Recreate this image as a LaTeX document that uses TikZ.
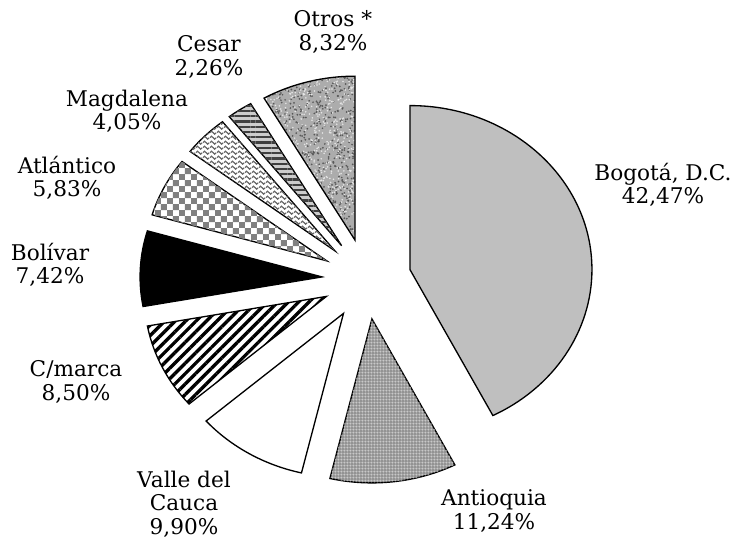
\documentclass[tikz,border=0pt]{standalone}
\usepackage{fontspec}
\setmainfont{DejaVu Serif}
\usetikzlibrary{patterns,patterns.meta}

\pgfdeclarepatternformonly{finegrid}{\pgfpointorigin}{\pgfpoint{1.8pt}{1.8pt}}{\pgfpoint{1.8pt}{1.8pt}}{
	\pgfsetlinewidth{0.3pt}
	\pgfpathmoveto{\pgfpoint{0pt}{0.9pt}}\pgfpathlineto{\pgfpoint{1.8pt}{0.9pt}}
	\pgfpathmoveto{\pgfpoint{0.9pt}{0pt}}\pgfpathlineto{\pgfpoint{0.9pt}{1.8pt}}
	\pgfusepath{stroke}}
\pgfdeclarepatternformonly{checker}{\pgfpointorigin}{\pgfpoint{6.8pt}{6.8pt}}{\pgfpoint{6.8pt}{6.8pt}}{
	\pgfpathrectangle{\pgfpointorigin}{\pgfpoint{3.4pt}{3.4pt}}
	\pgfpathrectangle{\pgfpoint{3.4pt}{3.4pt}}{\pgfpoint{3.4pt}{3.4pt}}
	\pgfusepath{fill}}
\pgfdeclarepatternformonly{waves}{\pgfpoint{0pt}{-0.5pt}}{\pgfpoint{4pt}{2.5pt}}{\pgfpoint{4pt}{3pt}}{
	\pgfsetlinewidth{0.75pt}
	\pgfpathmoveto{\pgfpoint{0pt}{1pt}}
	\pgfpathcurveto{\pgfpoint{1pt}{2.3pt}}{\pgfpoint{1pt}{2.3pt}}{\pgfpoint{2pt}{1pt}}
	\pgfpathcurveto{\pgfpoint{3pt}{-0.3pt}}{\pgfpoint{3pt}{-0.3pt}}{\pgfpoint{4pt}{1pt}}
	\pgfusepath{stroke}}

\begin{document}
\begin{tikzpicture}[
	slice/.style={draw=black, line width=0.75pt, line join=miter},
	bogota/.style={fill=gray!50},
	antioquia/.style={fill=gray!85, postaction={pattern=finegrid, pattern color=white!80!gray}},
	valle/.style={fill=white},
	cmarca/.style={fill=white, postaction={pattern={Lines[angle=45, distance=4.2pt, line width=1.9pt]}, pattern color=black}},
	bolivar/.style={fill=black},
	atlantico/.style={fill=white, postaction={pattern=checker, pattern color=gray}},
	magdalena/.style={fill=white, postaction={pattern=waves, pattern color=black!60}},
	cesar/.style={fill=gray!40, postaction={pattern={Lines[angle=0, distance=3pt, line width=1.3pt]}, pattern color=black!75}},
	lbl/.style={align=center, inner sep=0pt, font=\fontsize{12.3}{13.3}\selectfont}
	]
	\useasboundingbox (0,0) rectangle (14.68,10.76);

	% slices, exploded along their bisectors
	\begin{scope}[shift={(7.332,5.18)}]
		\foreach \a/\b/\sty in {90/-62.89/bogota, -62.89/-103.36/antioquia, -103.36/-139.00/valle,
			-139.00/-169.60/cmarca, -169.60/-196.31/bolivar, -196.31/-217.30/atlantico,
			-217.30/-231.88/magdalena, -231.88/-240.01/cesar}
		{
			\pgfmathsetmacro\midang{(\a+\b)/2}
			\draw[slice, \sty] (\midang:0.892 and 0.804) -- ++(\a:3.64 and 3.28)
				arc[start angle=\a, end angle=\b, x radius=3.64, y radius=3.28] -- cycle;
		}
		% otros: speckled
		\begin{scope}
			\clip (105:0.892 and 0.804) -- ++(120:3.64 and 3.28)
				arc[start angle=120, end angle=90, x radius=3.64, y radius=3.28] -- cycle;
			\fill[gray!65] (-2,0) rectangle (0.5,4.5);
			\pgfmathsetseed{17}
			\foreach \i in {1,...,900}
				\fill[black!65] ({-2.1+1.9*rnd},{0.6+3.6*rnd}) circle (0.55pt);
			\foreach \i in {1,...,900}
				\fill[white!80!gray] ({-2.1+1.9*rnd},{0.6+3.6*rnd}) circle (0.5pt);
		\end{scope}
		\draw[slice] (105:0.892 and 0.804) -- ++(120:3.64 and 3.28)
			arc[start angle=120, end angle=90, x radius=3.64, y radius=3.28] -- cycle;
	\end{scope}

	% labels
	\node (lbogota) [lbl] at (13.26,7.06) {Bogotá, D.C.\\42,47\%};
	\node (lantioquia) [lbl] at (9.88,0.54) {Antioquia\\11,24\%};
	\node (lvalle) [lbl] at (3.68,0.68) {Valle del\\Cauca\\9,90\%};
	\node (lcmarca) [lbl] at (1.52,3.12) {C/marca\\8,50\%};
	\node (lbolivar) [lbl] at (1.00,5.46) {Bolívar\\7,42\%};
	\node (latlantico) [lbl] at (1.34,7.20) {Atlántico\\5,83\%};
	\node (lmagdalena) [lbl] at (2.54,8.54) {Magdalena\\4,05\%};
	\node (lcesar) [lbl] at (4.18,9.62) {Cesar\\2,26\%};
	\node (lotros) [lbl] at (6.66,10.12) {Otros *\\8,32\%};

\end{tikzpicture}
\end{document}
